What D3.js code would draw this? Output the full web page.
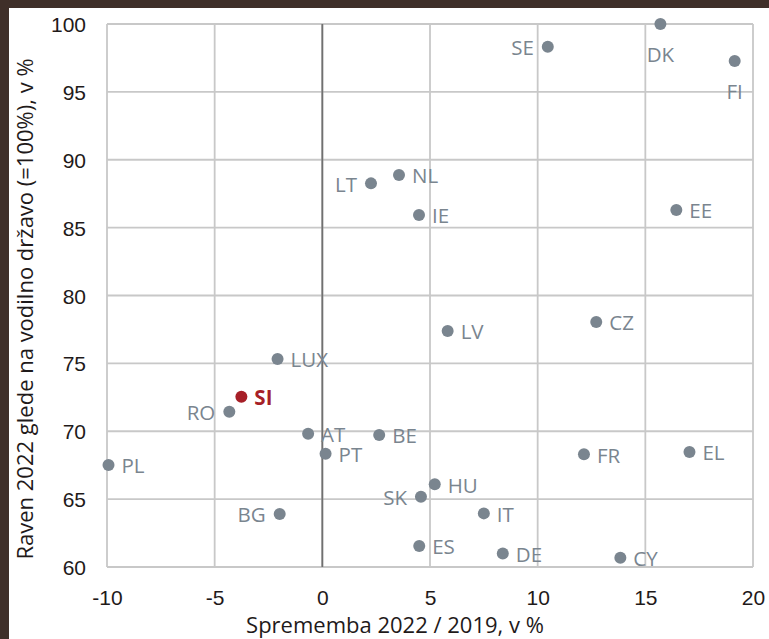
<!DOCTYPE html>
<html><head><meta charset="utf-8">
<script src="https://cdn.jsdelivr.net/npm/d3@7"></script>
<style>
html,body{margin:0;padding:0;background:#fff;}
svg{display:block;font-family:"Open Sans",sans-serif;}
</style></head>
<body>
<svg id="c" width="769" height="639"></svg>
<script>
const countries = ["SE","DK","FI","LT","NL","IE","LV","EE","CZ","LUX","SI","RO","AT","PT","BE","PL","FR","EL","HU","SK","IT","ES","DE","CY","BG"];
const change = [10.47,15.7,19.15,2.26,3.56,4.49,5.82,16.44,12.72,-2.08,-3.76,-4.32,-0.66,0.15,2.64,-9.93,12.15,17.05,5.22,4.58,7.5,4.5,8.38,13.84,-1.98];
const level  = [98.33,100,97.27,88.26,88.88,85.93,77.38,86.3,78.05,75.32,72.55,71.44,69.82,68.35,69.72,67.51,68.3,68.47,66.09,65.18,63.95,61.55,61.0,60.69,63.9];
const labelSide = ["l","b","b","l","r","r","r","r","r","r","r","l","r","r","r","r","r","r","r","l","r","r","r","r","l"];
const xTicks = [-10,-5,0,5,10,15,20];
const yTicks = [60,65,70,75,80,85,90,95,100];
const xTitle = "Sprememba 2022 / 2019, v %";
const yTitle = "Raven 2022 glede na vodilno državo (=100%), v %";
const highlight = "SI";

const svg = d3.select("#c");
const L=107, R=753, T=24, B=567;
const x = d3.scaleLinear().domain([-10,20]).range([L,R]);
const y = d3.scaleLinear().domain([60,100]).range([B,T]);

// border frame
svg.append("rect").attr("x",0).attr("y",0).attr("width",769).attr("height",8).attr("fill","#3f2f29");
svg.append("rect").attr("x",0).attr("y",0).attr("width",9).attr("height",639).attr("fill","#3f2f29");

const grid = svg.append("g");
grid.selectAll("line.v").data(xTicks).join("line")
  .attr("x1",d=>x(d)).attr("x2",d=>x(d)).attr("y1",T).attr("y2",B)
  .attr("stroke","#c8c8c8").attr("stroke-width",1.8);
grid.selectAll("line.h").data(yTicks).join("line")
  .attr("x1",L).attr("x2",R).attr("y1",d=>y(d)).attr("y2",d=>y(d))
  .attr("stroke","#c8c8c8").attr("stroke-width",1.8);
// zero line on top of horizontals
svg.append("line").attr("x1",x(0)).attr("x2",x(0)).attr("y1",T).attr("y2",B)
  .attr("stroke","#707070").attr("stroke-width",1.8);

// tick labels
const xa = d3.axisBottom(x).tickValues(xTicks).tickSize(0).tickPadding(0).tickFormat(d=>String(d));
const gx = svg.append("g").attr("transform",`translate(0,${B})`).call(xa);
gx.select(".domain").remove();
gx.selectAll("text").attr("font-size",21).attr("fill","#1f1a1a").attr("dy",null).attr("y",38);
const ya = d3.axisLeft(y).tickValues(yTicks).tickSize(0).tickPadding(0).tickFormat(d=>String(d));
const gy = svg.append("g").attr("transform",`translate(86,0)`).call(ya);
gy.select(".domain").remove();
gy.selectAll("text").attr("font-size",21).attr("fill","#1f1a1a").attr("x",0).attr("dy","0.36em");

// axis titles
svg.append("text").attr("x",395).attr("y",633).attr("text-anchor","middle")
  .attr("font-size",22).attr("fill","#1f1a1a").text(xTitle);
svg.append("text").attr("transform","translate(33,309) rotate(-90)").attr("text-anchor","middle")
  .attr("font-size",22).attr("fill","#1f1a1a").text(yTitle);

const data = countries.map((c,i)=>({c, x:change[i], y:level[i], side:labelSide[i]}));
const grey="#7a858f", red="#a61f27";
svg.append("g").selectAll("circle").data(data).join("circle")
  .attr("cx",d=>x(d.x)).attr("cy",d=>y(d.y)).attr("r",6)
  .attr("fill",d=>d.c===highlight?red:grey);
svg.append("g").selectAll("text").data(data).join("text")
  .attr("x",d=>x(d.x)+(d.side==="r"?13:d.side==="l"?-14:0))
  .attr("y",d=>y(d.y)+(d.side==="b"?31:1))
  .attr("dy","0.35em")
  .attr("text-anchor",d=>d.side==="r"?"start":d.side==="l"?"end":"middle")
  .attr("font-size",20.5)
  .attr("font-weight",d=>d.c===highlight?"bold":"normal")
  .attr("fill",d=>d.c===highlight?red:grey)
  .text(d=>d.c);
</script>
</body></html>
